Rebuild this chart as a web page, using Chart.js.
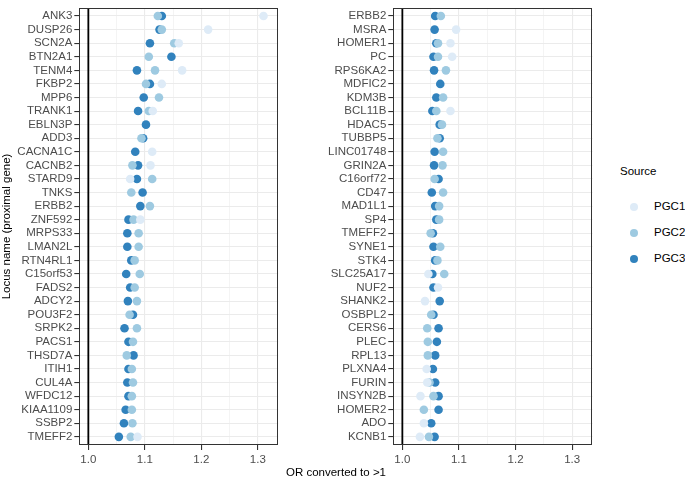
<!DOCTYPE html>
<html>
<head>
<meta charset="utf-8">
<script src="https://cdn.jsdelivr.net/npm/chart.js@4.4.1/dist/chart.umd.min.js"></script>
<style>
body { margin: 0; background: #fff; font-family: "Liberation Sans", Arial, sans-serif; }
#wrap { position: relative; width: 685px; height: 478px; overflow: hidden; }
canvas { position: absolute; top: -1px; }
#xtitle { position: absolute; left: 0; width: 672px; top: 466px; line-height: 13px; text-align: center; font-size: 11.5px; color: #000; }
#legend { position: absolute; left: 620px; top: 165px; font-size: 11.5px; color: #000; }
.ltitle { line-height: 13px; }
.item { position: absolute; left: 34px; line-height: 13px; white-space: nowrap; }
.dot { position: absolute; left: -24.5px; top: 2.5px; width: 8px; height: 8px; border-radius: 50%; }
</style>
</head>
<body>
<div id="wrap">
  <canvas id="left" width="290" height="479" style="left:0"></canvas>
  <canvas id="right" width="320" height="479" style="left:290px"></canvas>
  <div id="xtitle">OR converted to &gt;1</div>
  <div id="legend"><div class="ltitle">Source</div></div>
</div>
<script>
// data
var sources = ['PGC1', 'PGC2', 'PGC3'];
var colors = ['#deebf7', '#9ecae1', '#3182bd'];

var leftGenes = ['ANK3', 'DUSP26', 'SCN2A', 'BTN2A1', 'TENM4', 'FKBP2', 'MPP6', 'TRANK1', 'EBLN3P', 'ADD3',
  'CACNA1C', 'CACNB2', 'STARD9', 'TNKS', 'ERBB2', 'ZNF592', 'MRPS33', 'LMAN2L', 'RTN4RL1', 'C15orf53',
  'FADS2', 'ADCY2', 'POU3F2', 'SRPK2', 'PACS1', 'THSD7A', 'ITIH1', 'CUL4A', 'WFDC12', 'KIAA1109', 'SSBP2', 'TMEFF2'];
var leftPGC1 = [1.310, 1.212, 1.160, null, 1.166, 1.130, null, 1.114, null, null,
  1.113, 1.110, 1.074, null, null, 1.092, null, null, null, null,
  null, null, null, null, null, null, null, null, null, null, null, 1.087];
var leftPGC2 = [1.123, 1.130, 1.152, 1.107, 1.118, 1.102, 1.125, 1.107, null, 1.094,
  null, 1.078, 1.113, 1.076, 1.109, 1.080, 1.089, 1.089, 1.082, 1.091,
  1.082, 1.086, 1.073, 1.086, 1.079, 1.068, 1.077, 1.079, 1.077, 1.077, 1.078, 1.075];
var leftPGC3 = [1.130, 1.126, 1.109, 1.147, 1.086, 1.109, 1.098, 1.088, 1.102, 1.097,
  1.083, 1.088, 1.086, 1.096, 1.092, 1.071, 1.069, 1.069, 1.076, 1.067,
  1.074, 1.070, 1.079, 1.064, 1.071, 1.080, 1.071, 1.069, 1.071, 1.066, 1.063, 1.054];

var rightGenes = ['ERBB2', 'MSRA', 'HOMER1', 'PC', 'RPS6KA2', 'MDFIC2', 'KDM3B', 'BCL11B', 'HDAC5', 'TUBBP5',
  'LINC01748', 'GRIN2A', 'C16orf72', 'CD47', 'MAD1L1', 'SP4', 'TMEFF2', 'SYNE1', 'STK4', 'SLC25A17',
  'NUF2', 'SHANK2', 'OSBPL2', 'CERS6', 'PLEC', 'RPL13', 'PLXNA4', 'FURIN', 'INSYN2B', 'HOMER2', 'ADO', 'KCNB1'];
var rightPGC1 = [null, 1.095, 1.085, 1.088, null, null, null, 1.085, null, null,
  null, null, null, null, null, null, null, null, null, 1.046,
  1.063, 1.040, null, null, null, null, 1.043, 1.044, 1.032, null, 1.038, 1.031];
var rightPGC2 = [1.068, null, 1.063, 1.063, 1.077, null, 1.072, 1.060, 1.070, 1.062,
  1.072, 1.071, 1.057, 1.072, 1.065, 1.065, 1.050, 1.067, 1.062, 1.074,
  null, null, 1.051, 1.044, 1.045, 1.045, null, 1.048, 1.055, 1.038, null, 1.047];
var rightPGC3 = [1.058, 1.057, 1.060, 1.055, 1.056, 1.067, 1.060, 1.053, 1.066, 1.066,
  1.057, 1.056, 1.064, 1.052, 1.058, 1.060, 1.054, 1.055, 1.058, 1.053,
  1.055, 1.066, 1.055, 1.064, 1.061, 1.058, 1.054, 1.058, 1.064, 1.064, 1.051, 1.057];

var xTicks = [1.0, 1.05, 1.1, 1.15, 1.2, 1.25, 1.3];
var xMin = 0.984, xMax = 1.336;
var refLine = 1.0;

function isMajor(v) { return Math.abs(v * 10 - Math.round(v * 10)) < 1e-6; }

var frame = {
  id: 'frame',
  beforeDatasetsDraw: function (chart) {
    var ctx = chart.ctx, a = chart.chartArea;
    var px = chart.scales.x.getPixelForValue(refLine);
    ctx.save();
    ctx.strokeStyle = '#000';
    ctx.lineWidth = 1.8;
    ctx.beginPath();
    ctx.moveTo(px, a.top);
    ctx.lineTo(px, a.bottom);
    ctx.stroke();
    ctx.restore();
  },
  afterDatasetsDraw: function (chart) {
    var ctx = chart.ctx, a = chart.chartArea;
    ctx.save();
    ctx.strokeStyle = '#333333';
    ctx.lineWidth = 1;
    ctx.strokeRect(Math.round(a.left) + 0.5, Math.round(a.top) + 0.5,
      Math.round(a.right - a.left) - 1, Math.round(a.bottom - a.top) - 1);
    ctx.restore();
  }
};

function panel(id, genes, vals, yTitle, axisW, padRight) {
  var datasets = vals.map(function (v, k) {
    return {
      label: sources[k],
      data: genes.map(function (g, i) { return { x: v[i], y: i }; })
        .filter(function (p) { return p.x !== null; }),
      backgroundColor: colors[k],
      pointRadius: 4.3,
      pointHoverRadius: 4.3,
      borderWidth: 0
    };
  });
  return new Chart(document.getElementById(id), {
    type: 'scatter',
    data: { datasets: datasets },
    options: {
      responsive: false,
      animation: false,
      events: [],
      layout: { padding: { left: 0, right: padRight, top: 0, bottom: 0 } },
      plugins: { legend: { display: false }, tooltip: { enabled: false } },
      scales: {
        x: {
          type: 'linear', min: xMin, max: xMax,
          afterBuildTicks: function (s) { s.ticks = xTicks.map(function (v) { return { value: v }; }); },
          afterFit: function (s) { s.height = 33; },
          border: { display: false },
          grid: {
            color: '#ebebeb',
            lineWidth: function (c) { return c.tick && isMajor(c.tick.value) ? 1.1 : 0.55; },
            tickColor: function (c) { return c.tick && isMajor(c.tick.value) ? '#333333' : 'rgba(0,0,0,0)'; },
            tickLength: 5
          },
          ticks: {
            autoSkip: false, maxRotation: 0, padding: 3,
            color: '#4d4d4d',
            font: { family: '"Liberation Sans", Arial, sans-serif', size: 11.5 },
            callback: function (v) { return isMajor(v) ? v.toFixed(1) : ''; }
          }
        },
        y: {
          type: 'linear', reverse: true, min: -0.6, max: genes.length - 0.4,
          afterBuildTicks: function (s) { s.ticks = genes.map(function (g, i) { return { value: i }; }); },
          afterFit: function (s) { s.width = axisW; },
          border: { display: false },
          grid: { color: '#ebebeb', lineWidth: 1.1, tickColor: '#333333', tickLength: 5 },
          ticks: {
            autoSkip: false, padding: 2,
            color: '#4d4d4d',
            font: { family: '"Liberation Sans", Arial, sans-serif', size: 11.5 },
            callback: function (v) { return genes[v]; }
          },
          title: {
            display: !!yTitle, text: yTitle, color: '#000',
            padding: { top: 0, bottom: 0 },
            font: { family: '"Liberation Sans", Arial, sans-serif', size: 11.5 }
          }
        }
      }
    },
    plugins: [frame]
  });
}

panel('left', leftGenes, [leftPGC1, leftPGC2, leftPGC3], 'Locus name (proximal gene)', 79.3, 11.8);
panel('right', rightGenes, [rightPGC1, rightPGC2, rightPGC3], '', 103.3, 17.5);

// legend
var legend = document.getElementById('legend');
var itemY = [35, 61, 87];
sources.forEach(function (s, k) {
  var item = document.createElement('div');
  item.className = 'item';
  item.style.top = itemY[k] + 'px';
  item.innerHTML = '<span class="dot" style="background:' + colors[k] + '"></span>' + s;
  legend.appendChild(item);
});
</script>
</body>
</html>
